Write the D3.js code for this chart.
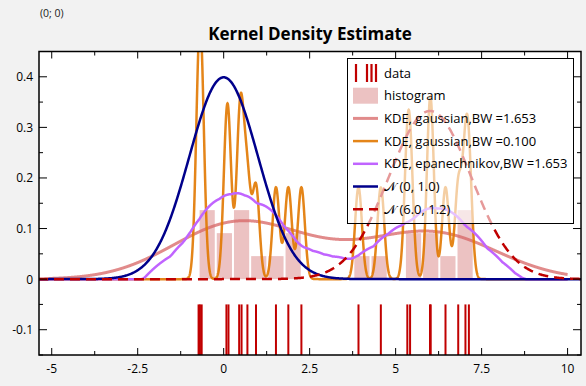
<!DOCTYPE html>
<html>
<head>
<meta charset="utf-8">
<script src="https://cdn.jsdelivr.net/npm/d3@7"></script>
<style>
  body { margin: 0; background: #f2f2f2; }
  svg { display: block; font-family: "Open Sans", "Noto Sans", sans-serif; }
</style>
</head>
<body>
<div id="chart"></div>
<script>
// raw samples (rug)
var data = [-0.73, -0.69, -0.64, 0.08, 0.14, 0.45, 0.52, 0.69, 0.94, 1.52, 1.88, 2.26,
            3.92, 4.57, 5.34, 5.42, 6.0, 6.02, 6.45, 6.82, 7.03, 7.13];

var bw_wide = 1.653;
var bw_narrow = 0.1;
var bin_width = 0.5;
var norm1 = { mu: 0, sigma: 1.0 };
var norm2 = { mu: 6.0, sigma: 1.2 };

var x_ticks = [-5, -2.5, 0, 2.5, 5, 7.5, 10];
var x_minor = [-3.75, -1.25, 1.25, 3.75, 6.25, 8.75];
var y_ticks = [-0.1, 0, 0.1, 0.2, 0.3, 0.4];
var y_minor = [-0.15, -0.05, 0.05, 0.15, 0.25, 0.35, 0.45];

var legend_labels = ['data', 'histogram', 'KDE, gaussian,BW =1.653', 'KDE, gaussian,BW =0.100',
                     'KDE, epanechnikov,BW =1.653', '\u{1D4A9} (0, 1.0)', '\u{1D4A9} (6.0, 1.2)'];

var chart_width = 586;
var chart_height = 386;
var p_left = 39, p_right = 581, p_top = 51.5, p_bottom = 355;

var svg = d3.select('#chart')
  .append('svg')
  .attr('width', chart_width)
  .attr('height', chart_height);

var x_scale = d3.scaleLinear().domain([-5.37, 10.39]).range([p_left, p_right]);
var y_scale = d3.scaleLinear().domain([-0.15, 0.45]).range([p_bottom, p_top]);

var n = data.length;
function gauss(u) { return Math.exp(-0.5 * u * u) / Math.sqrt(2 * Math.PI); }
function epan(u) { return Math.abs(u) < 1 ? 0.75 * (1 - u * u) : 0; }
function kde(kernel, h, x) {
  return d3.sum(data, function(d) { return kernel((x - d) / h); }) / (n * h);
}

var grid = d3.range(-5.4, 10.0001, 0.005);
var grid_n = d3.range(-5.4, 10.4001, 0.02);

svg.append('text').attr('x', 40).attr('y', 17).attr('font-size', 10.5).attr('fill', '#222').text('(0; 0)');
svg.append('text').attr('x', 310).attr('y', 40).attr('text-anchor', 'middle')
  .attr('font-size', 17).attr('font-weight', 'bold').text('Kernel Density Estimate');

svg.append('rect').attr('x', p_left).attr('y', p_top).attr('width', p_right - p_left).attr('height', p_bottom - p_top).attr('fill', '#fff');

svg.append('clipPath').attr('id', 'clip').append('rect')
  .attr('x', p_left).attr('y', p_top).attr('width', p_right - p_left).attr('height', p_bottom - p_top);
var plot = svg.append('g').attr('clip-path', 'url(#clip)');

// histogram, bins start at the smallest sample
var x_min = d3.min(data);
var thresholds = d3.range(x_min, d3.max(data) + bin_width, bin_width);
var bins = d3.bin()
  .domain([x_min, thresholds[thresholds.length - 1]])
  .thresholds(thresholds)(data);

plot.selectAll('rect.hist')
  .data(bins.filter(function(b) { return b.length > 0; }))
  .enter()
  .append('rect')
  .attr('class', 'hist')
  .attr('x', function(b) { return x_scale(b.x0) + 1; })
  .attr('width', function(b) { return x_scale(b.x1) - x_scale(b.x0) - 2; })
  .attr('y', function(b) { return y_scale(b.length / n); })
  .attr('height', function(b) { return y_scale(0) - y_scale(b.length / n); })
  .attr('fill', '#ecc2c2');

// rug
plot.selectAll('line.rug')
  .data(data)
  .enter()
  .append('line')
  .attr('x1', function(d) { return x_scale(d); })
  .attr('x2', function(d) { return x_scale(d); })
  .attr('y1', y_scale(-0.05))
  .attr('y2', y_scale(-0.15))
  .attr('stroke', '#c00000')
  .attr('stroke-width', 2);

var line = d3.line()
  .x(function(d) { return x_scale(d[0]); })
  .y(function(d) { return y_scale(d[1]); });

var curves = [
  { pts: grid.map(function(x) { return [x, kde(gauss, bw_wide, x)]; }), color: 'rgba(215,100,100,0.75)', w: 3, dash: null },
  { pts: grid.map(function(x) { return [x, kde(gauss, bw_narrow, x)]; }), color: 'rgba(225,120,0,0.9)', w: 2.5, dash: null },
  { pts: grid.map(function(x) { return [x, kde(epan, bw_wide, x)]; }), color: '#c064ff', w: 2.5, dash: null },
  { pts: grid_n.map(function(x) { return [x, gauss((x - norm1.mu) / norm1.sigma) / norm1.sigma]; }), color: '#00008b', w: 2.5, dash: null },
  { pts: grid_n.map(function(x) { return [x, gauss((x - norm2.mu) / norm2.sigma) / norm2.sigma]; }), color: '#c00000', w: 2.5, dash: '10,6' }
];

curves.forEach(function(c) {
  plot.append('path')
    .attr('d', line(c.pts))
    .attr('fill', 'none')
    .attr('stroke', c.color)
    .attr('stroke-width', c.w)
    .attr('stroke-dasharray', c.dash);
});

// axes: ticks inside, mirrored on top/right
var ax = svg.append('g').attr('stroke', '#000').attr('fill', 'none');
ax.append('rect').attr('x', p_left).attr('y', p_top).attr('width', p_right - p_left).attr('height', p_bottom - p_top).attr('stroke-width', 1.5);

x_ticks.forEach(function(t) {
  ax.append('line').attr('x1', x_scale(t)).attr('x2', x_scale(t)).attr('y1', p_bottom).attr('y2', p_bottom - 7);
  ax.append('line').attr('x1', x_scale(t)).attr('x2', x_scale(t)).attr('y1', p_top).attr('y2', p_top + 7);
});
x_minor.forEach(function(t) {
  ax.append('line').attr('x1', x_scale(t)).attr('x2', x_scale(t)).attr('y1', p_bottom).attr('y2', p_bottom - 4);
  ax.append('line').attr('x1', x_scale(t)).attr('x2', x_scale(t)).attr('y1', p_top).attr('y2', p_top + 4);
});
y_ticks.forEach(function(t) {
  ax.append('line').attr('y1', y_scale(t)).attr('y2', y_scale(t)).attr('x1', p_left).attr('x2', p_left + 8);
  ax.append('line').attr('y1', y_scale(t)).attr('y2', y_scale(t)).attr('x1', p_right).attr('x2', p_right - 8);
});
y_minor.forEach(function(t) {
  ax.append('line').attr('y1', y_scale(t)).attr('y2', y_scale(t)).attr('x1', p_left).attr('x2', p_left + 4);
  ax.append('line').attr('y1', y_scale(t)).attr('y2', y_scale(t)).attr('x1', p_right).attr('x2', p_right - 4);
});

svg.selectAll('text.xt')
  .data(x_ticks)
  .enter()
  .append('text')
  .attr('class', 'xt')
  .attr('x', function(d) { return x_scale(d); })
  .attr('y', 373)
  .attr('text-anchor', 'middle')
  .attr('font-size', 12)
  .text(function(d) { return d; });

svg.selectAll('text.yt')
  .data(y_ticks)
  .enter()
  .append('text')
  .attr('class', 'yt')
  .attr('x', 33)
  .attr('y', function(d) { return y_scale(d) + 4.5; })
  .attr('text-anchor', 'end')
  .attr('font-size', 12)
  .text(function(d) { return d; });

// legend (semi-transparent box)
var lg = svg.append('g');
lg.append('rect').attr('x', 347.5).attr('y', 58.5).attr('width', 226).attr('height', 165)
  .attr('fill', 'rgba(255,255,255,0.6)').attr('stroke', '#000').attr('stroke-width', 1);

var row_y = function(i) { return 73 + i * 22.7; };
[356, 367, 371.5, 376].forEach(function(px) {
  lg.append('line').attr('x1', px).attr('x2', px).attr('y1', row_y(0) - 9).attr('y2', row_y(0) + 9)
    .attr('stroke', '#c00000').attr('stroke-width', 2.2);
});
lg.append('rect').attr('x', 353).attr('y', row_y(1) - 8).attr('width', 25).attr('height', 16).attr('fill', '#ecc2c2');
curves.forEach(function(c, i) {
  lg.append('line').attr('x1', 353).attr('x2', 378).attr('y1', row_y(i + 2)).attr('y2', row_y(i + 2))
    .attr('stroke', c.color).attr('stroke-width', c.w).attr('stroke-dasharray', c.dash);
});
lg.selectAll('text.lt')
  .data(legend_labels)
  .enter()
  .append('text')
  .attr('class', 'lt')
  .attr('x', 384)
  .attr('y', function(d, i) { return row_y(i) + 4.5; })
  .attr('font-size', 13)
  .text(function(d) { return d; });
</script>
</body>
</html>
